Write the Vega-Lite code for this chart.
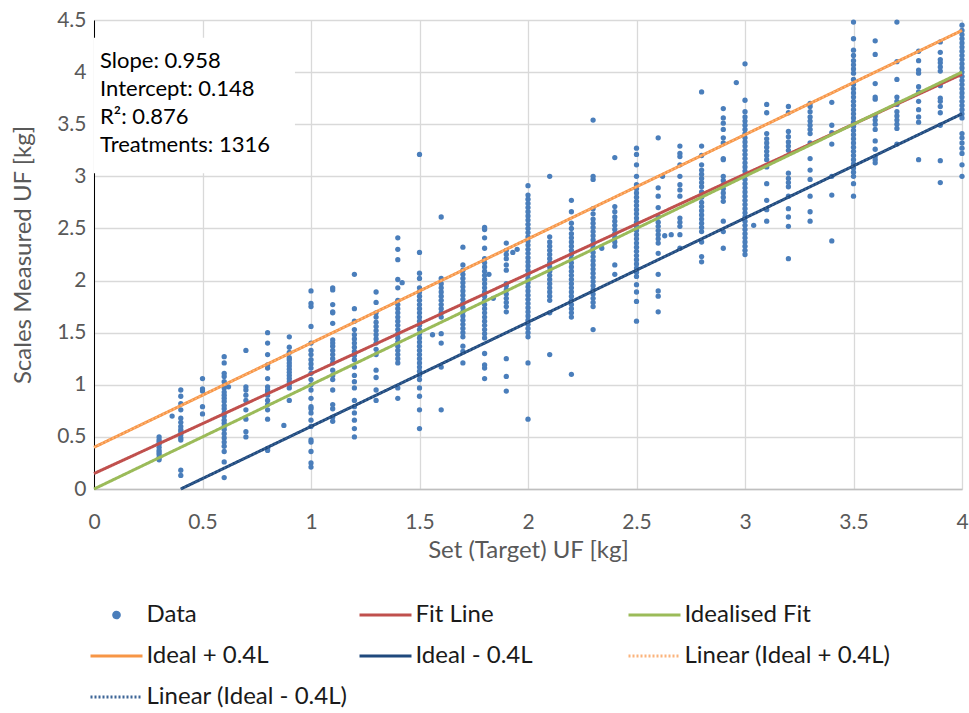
{
"$schema": "https://vega.github.io/schema/vega-lite/v6.json",
"width": 868, "height": 469,
"autosize": {"type": "none"},
"padding": {"left": 94, "top": 20, "right": 7, "bottom": 224},
"background": "white",
"config": {"view": {"stroke": null}, "font": "Lato"},
"datasets": {
"points": [
{"x":0.3,"y":0.28},{"x":0.3,"y":0.30},{"x":0.3,"y":0.33},{"x":0.3,"y":0.35},{"x":0.3,"y":0.37},{"x":0.3,"y":0.40},{"x":0.3,"y":0.43},{"x":0.3,"y":0.45},{"x":0.3,"y":0.47},{"x":0.3,"y":0.50},
{"x":0.36,"y":0.70},
{"x":0.4,"y":0.13},{"x":0.4,"y":0.18},{"x":0.4,"y":0.47},{"x":0.4,"y":0.49},{"x":0.4,"y":0.52},{"x":0.4,"y":0.55},{"x":0.4,"y":0.57},{"x":0.4,"y":0.60},{"x":0.4,"y":0.64},{"x":0.4,"y":0.68},{"x":0.4,"y":0.76},{"x":0.4,"y":0.82},{"x":0.4,"y":0.89},{"x":0.4,"y":0.95},
{"x":0.5,"y":0.72},{"x":0.5,"y":0.79},{"x":0.5,"y":0.94},{"x":0.5,"y":0.96},{"x":0.5,"y":1.06},
{"x":0.6,"y":0.11},{"x":0.6,"y":0.26},{"x":0.6,"y":0.36},{"x":0.6,"y":0.41},{"x":0.6,"y":0.45},{"x":0.6,"y":0.49},{"x":0.6,"y":0.53},{"x":0.6,"y":0.57},{"x":0.6,"y":0.60},{"x":0.6,"y":0.63},{"x":0.6,"y":0.66},{"x":0.6,"y":0.70},{"x":0.6,"y":0.73},{"x":0.6,"y":0.77},{"x":0.6,"y":0.80},{"x":0.6,"y":0.84},{"x":0.6,"y":0.87},{"x":0.6,"y":0.90},{"x":0.6,"y":0.93},{"x":0.6,"y":0.97},{"x":0.6,"y":1.03},{"x":0.6,"y":1.08},{"x":0.6,"y":1.11},{"x":0.6,"y":1.21},{"x":0.6,"y":1.27},
{"x":0.62,"y":0.98},
{"x":0.7,"y":0.50},{"x":0.7,"y":0.55},{"x":0.7,"y":0.67},{"x":0.7,"y":0.76},{"x":0.7,"y":0.85},{"x":0.7,"y":0.90},{"x":0.7,"y":0.95},{"x":0.7,"y":0.98},{"x":0.7,"y":1.33},
{"x":0.8,"y":0.37},{"x":0.8,"y":0.39},{"x":0.8,"y":0.67},{"x":0.8,"y":0.76},{"x":0.8,"y":0.81},{"x":0.8,"y":0.85},{"x":0.8,"y":0.90},{"x":0.8,"y":0.93},{"x":0.8,"y":0.95},{"x":0.8,"y":0.98},{"x":0.8,"y":1.06},{"x":0.8,"y":1.16},{"x":0.8,"y":1.19},{"x":0.8,"y":1.29},{"x":0.8,"y":1.40},{"x":0.8,"y":1.50},
{"x":0.875,"y":0.61},
{"x":0.9,"y":0.85},{"x":0.9,"y":0.97},{"x":0.9,"y":1.00},{"x":0.9,"y":1.03},{"x":0.9,"y":1.06},{"x":0.9,"y":1.09},{"x":0.9,"y":1.12},{"x":0.9,"y":1.15},{"x":0.9,"y":1.18},{"x":0.9,"y":1.21},{"x":0.9,"y":1.24},{"x":0.9,"y":1.26},{"x":0.9,"y":1.31},{"x":0.9,"y":1.36},{"x":0.9,"y":1.46},
{"x":1.0,"y":0.21},{"x":1.0,"y":0.25},{"x":1.0,"y":0.36},{"x":1.0,"y":0.45},{"x":1.0,"y":0.47},{"x":1.0,"y":0.60},{"x":1.0,"y":0.66},{"x":1.0,"y":0.73},{"x":1.0,"y":0.77},{"x":1.0,"y":0.79},{"x":1.0,"y":0.87},{"x":1.0,"y":0.95},{"x":1.0,"y":1.00},{"x":1.0,"y":1.05},{"x":1.0,"y":1.11},{"x":1.0,"y":1.16},{"x":1.0,"y":1.20},{"x":1.0,"y":1.24},{"x":1.0,"y":1.29},{"x":1.0,"y":1.33},{"x":1.0,"y":1.40},{"x":1.0,"y":1.56},{"x":1.0,"y":1.75},{"x":1.0,"y":1.78},{"x":1.0,"y":1.90},
{"x":1.1,"y":0.65},{"x":1.1,"y":0.69},{"x":1.1,"y":0.77},{"x":1.1,"y":0.81},{"x":1.1,"y":0.95},{"x":1.1,"y":1.05},{"x":1.1,"y":1.09},{"x":1.1,"y":1.14},{"x":1.1,"y":1.21},{"x":1.1,"y":1.25},{"x":1.1,"y":1.29},{"x":1.1,"y":1.33},{"x":1.1,"y":1.37},{"x":1.1,"y":1.40},{"x":1.1,"y":1.43},{"x":1.1,"y":1.59},{"x":1.1,"y":1.69},{"x":1.1,"y":1.70},{"x":1.1,"y":1.77},{"x":1.1,"y":1.91},{"x":1.1,"y":1.93},
{"x":1.2,"y":0.50},{"x":1.2,"y":0.58},{"x":1.2,"y":0.66},{"x":1.2,"y":0.73},{"x":1.2,"y":0.79},{"x":1.2,"y":0.85},{"x":1.2,"y":0.97},{"x":1.2,"y":1.03},{"x":1.2,"y":1.09},{"x":1.2,"y":1.17},{"x":1.2,"y":1.24},{"x":1.2,"y":1.28},{"x":1.2,"y":1.32},{"x":1.2,"y":1.36},{"x":1.2,"y":1.40},{"x":1.2,"y":1.44},{"x":1.2,"y":1.48},{"x":1.2,"y":1.53},{"x":1.2,"y":1.61},{"x":1.2,"y":1.73},{"x":1.2,"y":2.06},
{"x":1.3,"y":0.85},{"x":1.3,"y":0.95},{"x":1.3,"y":1.07},{"x":1.3,"y":1.14},{"x":1.3,"y":1.29},{"x":1.3,"y":1.34},{"x":1.3,"y":1.40},{"x":1.3,"y":1.44},{"x":1.3,"y":1.48},{"x":1.3,"y":1.52},{"x":1.3,"y":1.56},{"x":1.3,"y":1.60},{"x":1.3,"y":1.65},{"x":1.3,"y":1.69},{"x":1.3,"y":1.79},{"x":1.3,"y":1.89},
{"x":1.4,"y":0.87},{"x":1.4,"y":0.97},{"x":1.4,"y":1.21},{"x":1.4,"y":1.25},{"x":1.4,"y":1.29},{"x":1.4,"y":1.33},{"x":1.4,"y":1.37},{"x":1.4,"y":1.41},{"x":1.4,"y":1.45},{"x":1.4,"y":1.49},{"x":1.4,"y":1.53},{"x":1.4,"y":1.57},{"x":1.4,"y":1.61},{"x":1.4,"y":1.65},{"x":1.4,"y":1.69},{"x":1.4,"y":1.73},{"x":1.4,"y":1.77},{"x":1.4,"y":1.81},{"x":1.4,"y":1.93},{"x":1.4,"y":2.01},{"x":1.4,"y":2.20},{"x":1.4,"y":2.30},{"x":1.4,"y":2.41},
{"x":1.42,"y":1.98},
{"x":1.5,"y":0.58},{"x":1.5,"y":0.76},{"x":1.5,"y":0.89},{"x":1.5,"y":0.97},{"x":1.5,"y":1.05},{"x":1.5,"y":1.09},{"x":1.5,"y":1.13},{"x":1.5,"y":1.17},{"x":1.5,"y":1.21},{"x":1.5,"y":1.25},{"x":1.5,"y":1.29},{"x":1.5,"y":1.33},{"x":1.5,"y":1.37},{"x":1.5,"y":1.41},{"x":1.5,"y":1.45},{"x":1.5,"y":1.49},{"x":1.5,"y":1.53},{"x":1.5,"y":1.57},{"x":1.5,"y":1.61},{"x":1.5,"y":1.65},{"x":1.5,"y":1.69},{"x":1.5,"y":1.73},{"x":1.5,"y":1.77},{"x":1.5,"y":1.81},{"x":1.5,"y":1.85},{"x":1.5,"y":1.89},{"x":1.5,"y":1.93},{"x":1.5,"y":2.02},{"x":1.5,"y":2.07},{"x":1.5,"y":2.27},{"x":1.5,"y":3.21},
{"x":1.56,"y":1.48},
{"x":1.6,"y":0.76},{"x":1.6,"y":1.17},{"x":1.6,"y":1.40},{"x":1.6,"y":1.49},{"x":1.6,"y":1.65},{"x":1.6,"y":1.69},{"x":1.6,"y":1.73},{"x":1.6,"y":1.77},{"x":1.6,"y":1.81},{"x":1.6,"y":1.85},{"x":1.6,"y":1.89},{"x":1.6,"y":1.93},{"x":1.6,"y":1.97},{"x":1.6,"y":2.02},{"x":1.6,"y":2.61},
{"x":1.7,"y":1.21},{"x":1.7,"y":1.32},{"x":1.7,"y":1.37},{"x":1.7,"y":1.46},{"x":1.7,"y":1.50},{"x":1.7,"y":1.54},{"x":1.7,"y":1.58},{"x":1.7,"y":1.62},{"x":1.7,"y":1.66},{"x":1.7,"y":1.70},{"x":1.7,"y":1.74},{"x":1.7,"y":1.78},{"x":1.7,"y":1.82},{"x":1.7,"y":1.86},{"x":1.7,"y":1.90},{"x":1.7,"y":1.94},{"x":1.7,"y":1.98},{"x":1.7,"y":2.02},{"x":1.7,"y":2.06},{"x":1.7,"y":2.10},{"x":1.7,"y":2.15},{"x":1.7,"y":2.32},
{"x":1.8,"y":1.06},{"x":1.8,"y":1.16},{"x":1.8,"y":1.19},{"x":1.8,"y":1.30},{"x":1.8,"y":1.45},{"x":1.8,"y":1.49},{"x":1.8,"y":1.53},{"x":1.8,"y":1.57},{"x":1.8,"y":1.61},{"x":1.8,"y":1.65},{"x":1.8,"y":1.69},{"x":1.8,"y":1.73},{"x":1.8,"y":1.77},{"x":1.8,"y":1.81},{"x":1.8,"y":1.85},{"x":1.8,"y":1.89},{"x":1.8,"y":1.93},{"x":1.8,"y":1.97},{"x":1.8,"y":2.01},{"x":1.8,"y":2.05},{"x":1.8,"y":2.09},{"x":1.8,"y":2.13},{"x":1.8,"y":2.17},{"x":1.8,"y":2.21},{"x":1.8,"y":2.31},{"x":1.8,"y":2.41},{"x":1.8,"y":2.49},{"x":1.8,"y":2.51},
{"x":1.82,"y":2.06},{"x":1.84,"y":1.83},
{"x":1.9,"y":0.94},{"x":1.9,"y":1.08},{"x":1.9,"y":1.25},{"x":1.9,"y":1.70},{"x":1.9,"y":1.75},{"x":1.9,"y":1.79},{"x":1.9,"y":1.83},{"x":1.9,"y":1.87},{"x":1.9,"y":1.91},{"x":1.9,"y":1.95},{"x":1.9,"y":1.97},{"x":1.9,"y":2.10},{"x":1.9,"y":2.15},{"x":1.9,"y":2.21},{"x":1.9,"y":2.25},{"x":1.9,"y":2.29},{"x":1.9,"y":2.36},
{"x":1.93,"y":2.27},{"x":1.95,"y":2.30},
{"x":2.0,"y":0.67},{"x":2.0,"y":1.21},{"x":2.0,"y":1.46},{"x":2.0,"y":1.50},{"x":2.0,"y":1.54},{"x":2.0,"y":1.58},{"x":2.0,"y":1.62},{"x":2.0,"y":1.66},{"x":2.0,"y":1.70},{"x":2.0,"y":1.74},{"x":2.0,"y":1.78},{"x":2.0,"y":1.82},{"x":2.0,"y":1.86},{"x":2.0,"y":1.90},{"x":2.0,"y":1.94},{"x":2.0,"y":1.98},{"x":2.0,"y":2.02},{"x":2.0,"y":2.06},{"x":2.0,"y":2.10},{"x":2.0,"y":2.14},{"x":2.0,"y":2.18},{"x":2.0,"y":2.22},{"x":2.0,"y":2.26},{"x":2.0,"y":2.30},{"x":2.0,"y":2.34},{"x":2.0,"y":2.38},{"x":2.0,"y":2.42},{"x":2.0,"y":2.46},{"x":2.0,"y":2.50},{"x":2.0,"y":2.54},{"x":2.0,"y":2.58},{"x":2.0,"y":2.62},{"x":2.0,"y":2.66},{"x":2.0,"y":2.70},{"x":2.0,"y":2.74},{"x":2.0,"y":2.78},{"x":2.0,"y":2.82},{"x":2.0,"y":2.91},
{"x":2.1,"y":1.29},{"x":2.1,"y":1.69},{"x":2.1,"y":1.81},{"x":2.1,"y":1.85},{"x":2.1,"y":1.89},{"x":2.1,"y":1.93},{"x":2.1,"y":1.97},{"x":2.1,"y":2.01},{"x":2.1,"y":2.05},{"x":2.1,"y":2.09},{"x":2.1,"y":2.13},{"x":2.1,"y":2.17},{"x":2.1,"y":2.21},{"x":2.1,"y":2.25},{"x":2.1,"y":2.29},{"x":2.1,"y":2.33},{"x":2.1,"y":2.37},{"x":2.1,"y":2.42},{"x":2.1,"y":3.00},
{"x":2.2,"y":1.10},{"x":2.2,"y":1.65},{"x":2.2,"y":1.69},{"x":2.2,"y":1.73},{"x":2.2,"y":1.77},{"x":2.2,"y":1.81},{"x":2.2,"y":1.85},{"x":2.2,"y":1.89},{"x":2.2,"y":1.93},{"x":2.2,"y":1.97},{"x":2.2,"y":2.01},{"x":2.2,"y":2.05},{"x":2.2,"y":2.09},{"x":2.2,"y":2.13},{"x":2.2,"y":2.17},{"x":2.2,"y":2.21},{"x":2.2,"y":2.25},{"x":2.2,"y":2.29},{"x":2.2,"y":2.33},{"x":2.2,"y":2.37},{"x":2.2,"y":2.41},{"x":2.2,"y":2.45},{"x":2.2,"y":2.50},{"x":2.2,"y":2.55},{"x":2.2,"y":2.66},{"x":2.2,"y":2.77},
{"x":2.3,"y":1.53},{"x":2.3,"y":1.75},{"x":2.3,"y":1.79},{"x":2.3,"y":1.83},{"x":2.3,"y":1.87},{"x":2.3,"y":1.91},{"x":2.3,"y":1.95},{"x":2.3,"y":1.99},{"x":2.3,"y":2.03},{"x":2.3,"y":2.07},{"x":2.3,"y":2.11},{"x":2.3,"y":2.15},{"x":2.3,"y":2.19},{"x":2.3,"y":2.23},{"x":2.3,"y":2.27},{"x":2.3,"y":2.31},{"x":2.3,"y":2.35},{"x":2.3,"y":2.39},{"x":2.3,"y":2.43},{"x":2.3,"y":2.47},{"x":2.3,"y":2.51},{"x":2.3,"y":2.55},{"x":2.3,"y":2.59},{"x":2.3,"y":2.64},{"x":2.3,"y":2.69},{"x":2.3,"y":2.97},{"x":2.3,"y":3.00},{"x":2.3,"y":3.54},
{"x":2.34,"y":2.31},
{"x":2.4,"y":2.06},{"x":2.4,"y":2.15},{"x":2.4,"y":2.33},{"x":2.4,"y":2.37},{"x":2.4,"y":2.41},{"x":2.4,"y":2.45},{"x":2.4,"y":2.49},{"x":2.4,"y":2.53},{"x":2.4,"y":2.57},{"x":2.4,"y":2.61},{"x":2.4,"y":2.66},{"x":2.4,"y":2.71},{"x":2.4,"y":3.18},
{"x":2.5,"y":1.61},{"x":2.5,"y":1.80},{"x":2.5,"y":1.89},{"x":2.5,"y":1.96},{"x":2.5,"y":2.04},{"x":2.5,"y":2.08},{"x":2.5,"y":2.12},{"x":2.5,"y":2.16},{"x":2.5,"y":2.20},{"x":2.5,"y":2.24},{"x":2.5,"y":2.28},{"x":2.5,"y":2.32},{"x":2.5,"y":2.36},{"x":2.5,"y":2.40},{"x":2.5,"y":2.44},{"x":2.5,"y":2.48},{"x":2.5,"y":2.52},{"x":2.5,"y":2.56},{"x":2.5,"y":2.60},{"x":2.5,"y":2.64},{"x":2.5,"y":2.68},{"x":2.5,"y":2.72},{"x":2.5,"y":2.76},{"x":2.5,"y":2.80},{"x":2.5,"y":2.84},{"x":2.5,"y":2.88},{"x":2.5,"y":2.92},{"x":2.5,"y":3.00},{"x":2.5,"y":3.11},{"x":2.5,"y":3.21},{"x":2.5,"y":3.27},
{"x":2.6,"y":1.70},{"x":2.6,"y":1.85},{"x":2.6,"y":1.90},{"x":2.6,"y":2.06},{"x":2.6,"y":2.26},{"x":2.6,"y":2.36},{"x":2.6,"y":2.40},{"x":2.6,"y":2.44},{"x":2.6,"y":2.48},{"x":2.6,"y":2.52},{"x":2.6,"y":2.56},{"x":2.6,"y":2.61},{"x":2.6,"y":2.70},{"x":2.6,"y":2.81},{"x":2.6,"y":2.89},{"x":2.6,"y":3.37},
{"x":2.62,"y":3.00},{"x":2.63,"y":2.43},{"x":2.66,"y":2.44},
{"x":2.7,"y":2.31},{"x":2.7,"y":2.44},{"x":2.7,"y":2.52},{"x":2.7,"y":2.56},{"x":2.7,"y":2.60},{"x":2.7,"y":2.81},{"x":2.7,"y":2.87},{"x":2.7,"y":2.92},{"x":2.7,"y":3.00},{"x":2.7,"y":3.11},{"x":2.7,"y":3.19},{"x":2.7,"y":3.22},{"x":2.7,"y":3.29},
{"x":2.8,"y":2.18},{"x":2.8,"y":2.23},{"x":2.8,"y":2.37},{"x":2.8,"y":2.47},{"x":2.8,"y":2.51},{"x":2.8,"y":2.55},{"x":2.8,"y":2.59},{"x":2.8,"y":2.63},{"x":2.8,"y":2.67},{"x":2.8,"y":2.71},{"x":2.8,"y":2.75},{"x":2.8,"y":2.80},{"x":2.8,"y":2.85},{"x":2.8,"y":2.90},{"x":2.8,"y":2.94},{"x":2.8,"y":2.98},{"x":2.8,"y":3.02},{"x":2.8,"y":3.06},{"x":2.8,"y":3.11},{"x":2.8,"y":3.20},{"x":2.8,"y":3.29},{"x":2.8,"y":3.81},
{"x":2.9,"y":2.31},{"x":2.9,"y":2.47},{"x":2.9,"y":2.57},{"x":2.9,"y":2.76},{"x":2.9,"y":2.80},{"x":2.9,"y":2.84},{"x":2.9,"y":2.88},{"x":2.9,"y":2.92},{"x":2.9,"y":2.96},{"x":2.9,"y":3.00},{"x":2.9,"y":3.16},{"x":2.9,"y":3.17},{"x":2.9,"y":3.32},{"x":2.9,"y":3.37},{"x":2.9,"y":3.45},{"x":2.9,"y":3.51},{"x":2.9,"y":3.56},{"x":2.9,"y":3.65},
{"x":2.96,"y":3.90},
{"x":3.0,"y":2.25},{"x":3.0,"y":2.29},{"x":3.0,"y":2.33},{"x":3.0,"y":2.37},{"x":3.0,"y":2.41},{"x":3.0,"y":2.45},{"x":3.0,"y":2.49},{"x":3.0,"y":2.53},{"x":3.0,"y":2.57},{"x":3.0,"y":2.61},{"x":3.0,"y":2.65},{"x":3.0,"y":2.69},{"x":3.0,"y":2.73},{"x":3.0,"y":2.77},{"x":3.0,"y":2.81},{"x":3.0,"y":2.85},{"x":3.0,"y":2.89},{"x":3.0,"y":2.93},{"x":3.0,"y":2.97},{"x":3.0,"y":3.01},{"x":3.0,"y":3.05},{"x":3.0,"y":3.09},{"x":3.0,"y":3.13},{"x":3.0,"y":3.17},{"x":3.0,"y":3.21},{"x":3.0,"y":3.25},{"x":3.0,"y":3.29},{"x":3.0,"y":3.33},{"x":3.0,"y":3.37},{"x":3.0,"y":3.41},{"x":3.0,"y":3.45},{"x":3.0,"y":3.49},{"x":3.0,"y":3.53},{"x":3.0,"y":3.57},{"x":3.0,"y":3.62},{"x":3.0,"y":3.73},{"x":3.0,"y":4.08},
{"x":3.04,"y":2.53},
{"x":3.1,"y":2.57},{"x":3.1,"y":2.68},{"x":3.1,"y":2.77},{"x":3.1,"y":2.93},{"x":3.1,"y":3.09},{"x":3.1,"y":3.16},{"x":3.1,"y":3.20},{"x":3.1,"y":3.24},{"x":3.1,"y":3.28},{"x":3.1,"y":3.32},{"x":3.1,"y":3.36},{"x":3.1,"y":3.41},{"x":3.1,"y":3.61},{"x":3.1,"y":3.69},
{"x":3.2,"y":2.21},{"x":3.2,"y":2.52},{"x":3.2,"y":2.61},{"x":3.2,"y":2.69},{"x":3.2,"y":2.81},{"x":3.2,"y":2.90},{"x":3.2,"y":2.94},{"x":3.2,"y":2.98},{"x":3.2,"y":3.03},{"x":3.2,"y":3.25},{"x":3.2,"y":3.29},{"x":3.2,"y":3.33},{"x":3.2,"y":3.38},{"x":3.2,"y":3.43},{"x":3.2,"y":3.61},{"x":3.2,"y":3.67},
{"x":3.3,"y":2.57},{"x":3.3,"y":2.66},{"x":3.3,"y":2.81},{"x":3.3,"y":2.97},{"x":3.3,"y":3.06},{"x":3.3,"y":3.17},{"x":3.3,"y":3.32},{"x":3.3,"y":3.41},{"x":3.3,"y":3.45},{"x":3.3,"y":3.49},{"x":3.3,"y":3.53},{"x":3.3,"y":3.57},{"x":3.3,"y":3.62},{"x":3.3,"y":3.67},{"x":3.3,"y":3.70},
{"x":3.4,"y":2.38},{"x":3.4,"y":2.82},{"x":3.4,"y":3.00},{"x":3.4,"y":3.31},{"x":3.4,"y":3.42},{"x":3.4,"y":3.49},{"x":3.4,"y":3.71},
{"x":3.5,"y":2.81},{"x":3.5,"y":2.93},{"x":3.5,"y":3.00},{"x":3.5,"y":3.04},{"x":3.5,"y":3.08},{"x":3.5,"y":3.12},{"x":3.5,"y":3.16},{"x":3.5,"y":3.20},{"x":3.5,"y":3.24},{"x":3.5,"y":3.28},{"x":3.5,"y":3.32},{"x":3.5,"y":3.36},{"x":3.5,"y":3.40},{"x":3.5,"y":3.44},{"x":3.5,"y":3.48},{"x":3.5,"y":3.52},{"x":3.5,"y":3.56},{"x":3.5,"y":3.60},{"x":3.5,"y":3.64},{"x":3.5,"y":3.68},{"x":3.5,"y":3.72},{"x":3.5,"y":3.76},{"x":3.5,"y":3.80},{"x":3.5,"y":3.84},{"x":3.5,"y":3.88},{"x":3.5,"y":3.93},{"x":3.5,"y":3.99},{"x":3.5,"y":4.03},{"x":3.5,"y":4.07},{"x":3.5,"y":4.11},{"x":3.5,"y":4.16},{"x":3.5,"y":4.21},{"x":3.5,"y":4.32},{"x":3.5,"y":4.48},
{"x":3.6,"y":3.13},{"x":3.6,"y":3.16},{"x":3.6,"y":3.19},{"x":3.6,"y":3.26},{"x":3.6,"y":3.34},{"x":3.6,"y":3.45},{"x":3.6,"y":3.50},{"x":3.6,"y":3.54},{"x":3.6,"y":3.58},{"x":3.6,"y":3.74},{"x":3.6,"y":3.76},{"x":3.6,"y":3.89},{"x":3.6,"y":4.17},{"x":3.6,"y":4.30},
{"x":3.7,"y":3.31},{"x":3.7,"y":3.46},{"x":3.7,"y":3.50},{"x":3.7,"y":3.54},{"x":3.7,"y":3.58},{"x":3.7,"y":3.62},{"x":3.7,"y":3.69},{"x":3.7,"y":3.72},{"x":3.7,"y":3.76},{"x":3.7,"y":3.93},{"x":3.7,"y":4.10},{"x":3.7,"y":4.48},
{"x":3.8,"y":3.16},{"x":3.8,"y":3.52},{"x":3.8,"y":3.57},{"x":3.8,"y":3.64},{"x":3.8,"y":3.72},{"x":3.8,"y":3.81},{"x":3.8,"y":3.86},{"x":3.8,"y":3.99},{"x":3.8,"y":4.02},{"x":3.8,"y":4.11},{"x":3.8,"y":4.20},
{"x":3.9,"y":2.94},{"x":3.9,"y":3.15},{"x":3.9,"y":3.49},{"x":3.9,"y":3.61},{"x":3.9,"y":3.67},{"x":3.9,"y":3.72},{"x":3.9,"y":3.75},{"x":3.9,"y":3.87},{"x":3.9,"y":4.01},{"x":3.9,"y":4.05},{"x":3.9,"y":4.09},{"x":3.9,"y":4.12},{"x":3.9,"y":4.19},{"x":3.9,"y":4.29},
{"x":4.0,"y":3.00},{"x":4.0,"y":3.11},{"x":4.0,"y":3.22},{"x":4.0,"y":3.27},{"x":4.0,"y":3.32},{"x":4.0,"y":3.37},{"x":4.0,"y":3.41},{"x":4.0,"y":3.56},{"x":4.0,"y":3.60},{"x":4.0,"y":3.64},{"x":4.0,"y":3.68},{"x":4.0,"y":3.72},{"x":4.0,"y":3.76},{"x":4.0,"y":3.80},{"x":4.0,"y":3.84},{"x":4.0,"y":3.88},{"x":4.0,"y":3.92},{"x":4.0,"y":3.96},{"x":4.0,"y":4.00},{"x":4.0,"y":4.04},{"x":4.0,"y":4.08},{"x":4.0,"y":4.12},{"x":4.0,"y":4.16},{"x":4.0,"y":4.20},{"x":4.0,"y":4.24},{"x":4.0,"y":4.28},{"x":4.0,"y":4.32},{"x":4.0,"y":4.36},{"x":4.0,"y":4.40},{"x":4.0,"y":4.45}
],
"lines": [
{"series":"Fit Line","x":0,"y":0.148},{"series":"Fit Line","x":4,"y":3.98},
{"series":"Idealised Fit","x":0,"y":0},{"series":"Idealised Fit","x":4,"y":4},
{"series":"Ideal + 0.4L","x":0,"y":0.4},{"series":"Ideal + 0.4L","x":4,"y":4.4},
{"series":"Ideal - 0.4L","x":0.4,"y":0},{"series":"Ideal - 0.4L","x":4,"y":3.6},
{"series":"Linear (Ideal + 0.4L)","x":0,"y":0.4},{"series":"Linear (Ideal + 0.4L)","x":4,"y":4.4},
{"series":"Linear (Ideal - 0.4L)","x":0.4,"y":0},{"series":"Linear (Ideal - 0.4L)","x":4,"y":3.6}
],
"note": [{}]
},
"layer": [
{
"data": {"name": "points"},
"mark": {"type": "point", "filled": true, "size": 28, "opacity": 1},
"encoding": {
"x": {"field": "x", "type": "quantitative",
 "scale": {"domain": [0, 4], "nice": false, "zero": false},
 "axis": {"values": [0,0.5,1,1.5,2,2.5,3,3.5,4], "format": "~g", "grid": true, "gridColor": "#d9d9d9", "gridWidth": 1.3,
  "ticks": false, "domainColor": "#bfbfbf", "domainWidth": 1.3, "labelFontSize": 21, "labelColor": "#595959", "labelPadding": 22,
  "labelFlush": false, "labelOverlap": false,
  "title": "Set (Target) UF [kg]", "titleFontSize": 24, "titleFontWeight": "normal", "titleColor": "#595959", "titlePadding": 6}},
"y": {"field": "y", "type": "quantitative",
 "scale": {"domain": [0, 4.5], "nice": false, "zero": false},
 "axis": {"values": [0,0.5,1,1.5,2,2.5,3,3.5,4,4.5], "format": "~g", "grid": true, "gridColor": "#d9d9d9", "gridWidth": 1.3,
  "ticks": false, "domainColor": "#000000", "domainWidth": 1, "labelFontSize": 21, "labelColor": "#595959", "labelPadding": 8,
  "labelFlush": false, "labelOverlap": false,
  "title": "Scales Measured UF [kg]", "titleFontSize": 24, "titleFontWeight": "normal", "titleColor": "#595959", "titlePadding": 21}},
"color": {"datum": "Data", "type": "nominal",
 "scale": {"domain": ["Data","Fit Line","Idealised Fit","Ideal + 0.4L","Ideal - 0.4L","Linear (Ideal + 0.4L)","Linear (Ideal - 0.4L)"],
  "range": ["#4a7ebb","#c0504d","#9bbb59","#f79646","#1f497d","#fbb47c","#3d6596"]},
 "legend": {"orient": "none", "direction": "horizontal", "legendX": -3, "legendY": 583, "title": null, "columns": 3, "gridAlign": "all",
  "padding": 0, "symbolSize": 400, "symbolStrokeWidth": 3, "symbolOffset": 13.5, "labelOffset": 18,
  "labelFontSize": 24, "labelColor": "#1a1a1a", "labelLimit": 0, "columnPadding": 0, "rowPadding": 17,
  "encode": {"symbols": {"update": {
   "shape": {"signal": "datum.value === 'Data' ? 'M-0.28,0A0.28,0.28,0,1,0,0.28,0A0.28,0.28,0,1,0,-0.28,0Z' : 'M-2.6,0H2.6'"},
   "fill": {"signal": "datum.value === 'Data' ? '#4a7ebb' : 'transparent'"},
   "stroke": {"signal": "datum.value === 'Data' ? 'transparent' : (datum.value === 'Linear (Ideal + 0.4L)' ? '#f79646' : (datum.value === 'Linear (Ideal - 0.4L)' ? '#1f497d' : scale('color', datum.value)))"},
   "strokeDash": {"signal": "indexof(datum.value, 'Linear') === 0 ? [2, 2] : [1, 0]"},
   "opacity": {"value": 1}
  }}}}}
}
},
{
"data": {"name": "lines"},
"mark": {"type": "line"},
"encoding": {
"x": {"field": "x", "type": "quantitative"},
"y": {"field": "y", "type": "quantitative"},
"color": {"field": "series", "type": "nominal",
 "legend": {"orient": "none", "direction": "horizontal", "legendX": -3, "legendY": 583, "title": null, "columns": 3, "gridAlign": "all",
  "padding": 0, "symbolSize": 400, "symbolStrokeWidth": 3, "symbolOffset": 13.5, "labelOffset": 18,
  "labelFontSize": 24, "labelColor": "#1a1a1a", "labelLimit": 0, "columnPadding": 0, "rowPadding": 17,
  "encode": {"symbols": {"update": {
   "shape": {"signal": "datum.value === 'Data' ? 'M-0.28,0A0.28,0.28,0,1,0,0.28,0A0.28,0.28,0,1,0,-0.28,0Z' : 'M-2.6,0H2.6'"},
   "fill": {"signal": "datum.value === 'Data' ? '#4a7ebb' : 'transparent'"},
   "stroke": {"signal": "datum.value === 'Data' ? 'transparent' : (datum.value === 'Linear (Ideal + 0.4L)' ? '#f79646' : (datum.value === 'Linear (Ideal - 0.4L)' ? '#1f497d' : scale('color', datum.value)))"},
   "strokeDash": {"signal": "indexof(datum.value, 'Linear') === 0 ? [2, 2] : [1, 0]"},
   "opacity": {"value": 1}
  }}}}},
"strokeDash": {"field": "series", "type": "nominal", "legend": null,
 "scale": {"domain": ["Fit Line","Idealised Fit","Ideal + 0.4L","Ideal - 0.4L","Linear (Ideal + 0.4L)","Linear (Ideal - 0.4L)"],
  "range": [[1,0],[1,0],[1,0],[1,0],[2,2],[2,2]]}},
"strokeWidth": {"field": "series", "type": "nominal", "legend": null,
 "scale": {"type": "ordinal", "domain": ["Fit Line","Idealised Fit","Ideal + 0.4L","Ideal - 0.4L","Linear (Ideal + 0.4L)","Linear (Ideal - 0.4L)"],
  "range": [3,3,3,3,1.5,1.5]}}
}
},
{
"data": {"name": "note"},
"mark": {"type": "rect", "fill": "white", "stroke": null},
"encoding": {"x": {"datum": 0}, "x2": {"datum": 0.926}, "y": {"datum": 3.03}, "y2": {"datum": 4.33}}
},
{
"data": {"name": "note"},
"mark": {"type": "text", "align": "left", "baseline": "top", "fontSize": 22, "color": "#000000", "lineHeight": 28, "font": "Lato"},
"encoding": {"x": {"datum": 0.028}, "y": {"datum": 4.205},
 "text": {"value": ["Slope: 0.958", "Intercept: 0.148", "R²: 0.876", "Treatments: 1316"]}}
}
]
}
